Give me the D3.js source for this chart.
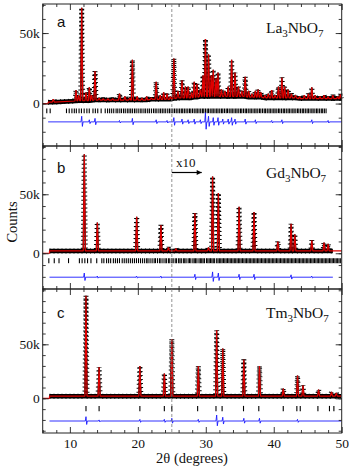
<!DOCTYPE html>
<meta charset="utf-8">
<style>
body { margin: 0; background: #fff; }
text { font-family: "Liberation Serif", "Times New Roman", serif; fill: #111; }
.frame { fill: none; stroke: #222; stroke-width: 1; }
.axis path { display: none; }
.axis line { stroke: #222; stroke-width: 0.9; }
.obs-band { fill: none; stroke: #000; stroke-width: 4.5; stroke-linejoin: round; }
.obs-core { fill: none; stroke: #000; stroke-width: 1.4; stroke-linejoin: bevel; }
.obs-cross { fill: none; stroke: #000; stroke-width: 5; stroke-dasharray: 1 3; stroke-linejoin: bevel; }
.calc { fill: none; stroke: #e00000; stroke-width: 1.2; stroke-linejoin: bevel; }
.diff { fill: none; stroke: #1a1aff; stroke-width: 0.9; stroke-linejoin: bevel; }
.refl { stroke: #000; stroke-width: 1.1; }
.vline { stroke: #777; stroke-width: 0.8; stroke-dasharray: 3 2; }
.letter { font-family: "Liberation Sans", Arial, sans-serif; font-size: 15px; }
</style>
<body>
<div id="chart"></div>
</body>
<script src="https://d3js.org/d3.v7.min.js"></script>
<script>
// x axis ticks
var xTicks = [10, 20, 30, 40, 50];
var xMinorTicks = [6, 8, 12, 14, 16, 18, 22, 24, 26, 28, 32, 34, 36, 38, 42, 44, 46, 48];
var yTickLabels = [0, 50000];

// ---- La3NbO7 : [2theta, peak counts, local background] ----
var laName = "La3NbO7";
var laRange = [6.8, 50];
var laPeaks = [
  [7.56, 3000, 1000], [10.9, 9500, 1800], [11.3, 6000, 2000], [11.74, 68000, 2000],
  [12.37, 8000, 2000], [12.86, 11500, 2000], [13.2, 6000, 2200], [13.7, 23000, 2500],
  [14.3, 4000, 2500], [14.9, 3500, 2500], [15.6, 3500, 2500], [16.3, 3500, 2500],
  [17.3, 7000, 2500], [18.1, 5000, 2500], [18.8, 4000, 2500], [19.2, 31000, 2500],
  [19.9, 5000, 2500], [20.6, 4000, 2500], [21.3, 5000, 2500], [22.0, 4000, 3000],
  [22.7, 15500, 3000], [23.3, 6000, 3000], [23.8, 8000, 3000], [24.3, 7000, 3000],
  [24.8, 5000, 3000], [25.3, 32000, 3500], [25.9, 9000, 4000], [26.5, 16500, 4000],
  [27.0, 12000, 4000], [27.4, 12000, 4000], [27.9, 8000, 4000], [28.3, 15500, 4500],
  [28.7, 14000, 4500], [29.2, 10000, 5000], [29.6, 20000, 5000], [29.95, 45700, 5000],
  [30.4, 35000, 5000], [30.8, 20000, 5000], [31.1, 24000, 5000], [31.5, 18000, 5000],
  [31.8, 22000, 5000], [32.3, 10000, 5000], [32.8, 9000, 5000], [33.3, 12000, 5000],
  [33.8, 31000, 5000], [34.3, 22000, 5000], [34.8, 12000, 5000], [35.3, 9000, 5000],
  [35.8, 19000, 5000], [36.3, 9000, 4500], [36.8, 7000, 4500], [37.3, 9000, 4500],
  [37.7, 10000, 4500], [38.1, 8000, 4500], [38.7, 6000, 4000], [39.2, 7000, 4000],
  [39.7, 9500, 4000], [40.2, 6000, 4000], [40.7, 12000, 4000], [41.2, 18500, 4000],
  [41.6, 12000, 4000], [42.1, 10000, 4000], [42.6, 7000, 4000], [43.2, 6000, 4000],
  [43.8, 5000, 3500], [44.5, 6000, 3500], [45.1, 7000, 3500], [45.6, 11500, 3500],
  [46.1, 6000, 3500], [46.8, 5000, 3500], [47.4, 6000, 3500], [48.0, 5000, 3500],
  [48.7, 6000, 3500], [49.4, 5000, 3500], [49.8, 6500, 3500]
];
var laReflections = [
  6.6, 7.1, 9.5, 9.9, 10.3, 10.65, 10.95, 11.35, 11.7, 12.1, 12.5, 12.85, 13.4, 13.75,
  14.1, 14.6, 15.2, 15.55, 15.85, 16.15, 16.45, 16.8, 17.05, 17.35, 17.6, 17.9, 18.15,
  18.45, 18.7, 18.95, 19.2, 19.5, 19.75, 20.05, 20.35, 20.6, 20.9, 21.15, 21.45, 21.7,
  22.0, 22.3, 22.55, 22.8, 23.1, 23.35, 23.6, 23.85, 24.1, 24.4, 24.65, 24.9, 25.15,
  25.4, 25.65, 25.9, 26.15, 26.4, 26.6, 26.85, 27.1, 27.35, 27.6, 27.8, 28.05, 28.3,
  28.55, 28.75, 29.0, 29.25, 29.5, 29.7, 29.95, 30.2, 30.4, 30.65, 30.9, 31.1, 31.35,
  31.6, 31.8, 32.05, 32.3, 32.5, 32.75, 33.0, 33.2, 33.45, 33.7, 33.9, 34.15, 34.4,
  34.6, 34.85, 35.1, 35.3, 35.55, 35.8, 36.0, 36.25, 36.5, 36.7, 36.95, 37.2, 37.4,
  37.65, 37.9, 38.1, 38.35, 38.6, 38.8, 39.05, 39.3, 39.5, 39.75, 40.0, 40.2, 40.45,
  40.7, 40.9, 41.15, 41.4, 41.6, 41.85, 42.1, 42.3, 42.55, 42.8, 43.0, 43.25, 43.5,
  43.7, 43.95, 44.2, 44.4, 44.65, 44.9, 45.1, 45.35, 45.6, 45.8, 46.05, 46.3, 46.5,
  46.75, 47.0, 47.2, 47.45, 47.7
];
// difference spikes [2theta, amplitude]
var laDiff = [
  [11.74, 4000], [12.86, 1500], [13.7, 2500], [17.3, 1000], [19.2, 2500], [22.7, 1500],
  [24.3, 1000], [25.3, 3000], [26.5, 2000], [27.4, 1500], [28.3, 2000], [29.2, 1500],
  [29.95, 6500], [30.4, 4000], [31.1, 3000], [31.8, 3000], [32.5, 2000], [33.3, 2000],
  [33.8, 3000], [34.3, 2000], [35.8, 2000], [37.3, 1500], [39.7, 1000], [41.2, 1500],
  [45.6, 1500], [48.0, 1000]
];

// ---- Gd3NbO7 ----
var gdName = "Gd3NbO7";
var gdRange = [7.0, 48.7];
var gdBackground = 2000;
var gdPeaks = [
  [12.12, 84000], [14.04, 26000], [19.83, 31000], [23.4, 24000], [24.5, 5000],
  [25.6, 4000], [28.4, 34000], [30.4, 5000], [31.0, 65000], [31.85, 51000],
  [34.9, 39500], [37.1, 35000], [40.6, 10000], [42.55, 25000], [43.1, 16000],
  [45.6, 11000], [47.4, 9000], [48.0, 8000]
];
var gdReflections = [
  6.9, 7.7, 8.4, 9.8, 11.4, 11.8, 12.2, 12.6, 13.1, 13.95, 14.7, 15.0, 15.4, 15.7,
  16.0, 16.4, 16.7, 17.0, 17.3, 17.7, 18.0, 18.3, 18.6, 18.9, 19.2, 19.5, 19.8, 20.1,
  20.4, 20.7, 21.0, 21.3, 21.5, 21.8, 22.1, 22.4, 22.6, 22.9, 23.2, 23.4, 23.7, 24.0,
  24.2, 24.5, 24.7, 25.0, 25.2, 25.5, 25.7, 26.0, 26.2, 26.4, 26.7, 26.9, 27.1, 27.4,
  27.6, 27.8, 28.1, 28.3, 28.5, 28.7, 29.0, 29.2, 29.4, 29.6, 29.8, 30.1, 30.3, 30.5,
  30.7, 30.9, 31.1, 31.3, 31.6, 31.8, 32.0, 32.2, 32.4, 32.6, 32.8, 33.0, 33.2, 33.4,
  33.6, 33.8, 34.0, 34.2, 34.4, 34.6, 34.8, 35.0, 35.2, 35.4, 35.6, 35.8, 36.0, 36.2,
  36.4, 36.6, 36.8, 37.0, 37.2, 37.4, 37.6, 37.8, 38.0, 38.2, 38.4, 38.6, 38.8, 39.0,
  39.2, 39.4, 39.6, 39.8, 40.0, 40.2, 40.4, 40.6, 40.8, 41.0, 41.2, 41.4, 41.6, 41.8,
  42.0, 42.2, 42.4, 42.6, 42.8, 43.0, 43.2, 43.4, 43.6, 43.8, 44.0, 44.2, 44.4, 44.6,
  44.8, 45.0, 45.2, 45.4, 45.6, 45.8, 46.0, 46.2, 46.4, 46.6, 46.8, 47.0, 47.2, 47.4,
  47.6, 47.8, 48.0, 48.2, 48.4, 48.6, 48.8, 49.0, 49.2, 49.4, 49.6, 49.8
];
var gdDiff = [
  [12.12, 3500], [14.04, 1000], [19.83, 1000], [23.4, 1000], [28.4, 2500],
  [31.0, 4500], [31.85, 3500], [34.9, 2500], [37.1, 2500], [42.55, 2000], [45.6, 1000]
];

// ---- Tm3NbO7 ----
var tmName = "Tm3NbO7";
var tmRange = [7.0, 49.9];
var tmBackground = 2000;
var tmPeaks = [
  [12.37, 95000], [14.3, 29000], [20.3, 30000], [23.9, 23000], [25.0, 55000],
  [28.9, 30000], [31.6, 63000], [32.5, 46000], [35.6, 36000], [37.9, 30000],
  [41.4, 9000], [43.5, 21000], [44.3, 12000], [46.6, 8000], [48.5, 6000], [49.2, 5000]
];
var tmReflections = [
  12.37, 14.3, 20.3, 23.9, 25.0, 28.8, 31.5, 32.4, 35.55, 37.8, 41.4, 43.4, 43.9,
  46.5, 48.2, 48.85
];
var tmDiff = [
  [12.37, 4000], [14.3, 1000], [20.3, 1500], [23.9, 1500], [25.0, 2500], [28.9, 1500],
  [31.6, 5500], [32.5, 3500], [35.6, 2500], [37.9, 2500], [43.5, 1500]
];

var width = 349, height = 469;
var left = 42.7, right = 341.7;
var hw = 0.15;   // half width of a drawn peak, degrees

var panels = [
  {letter: "a", name: laName, top: 4, bottom: 146, yDomain: [-30100, 70600],
   peaks: laPeaks, range: laRange, refl: laReflections, reflBand: [-3500, -6800],
   diff: laDiff, diffLevel: -13000, calcEnd: 50, letterY: 27, nameY: 33},
  {letter: "b", name: gdName, top: 146, bottom: 289, yDomain: [-30300, 90900],
   peaks: gdPeaks.map(function(p) { return [p[0], p[1], gdBackground]; }),
   range: gdRange, refl: gdReflections, reflBand: [-4200, -8400],
   diff: gdDiff, diffLevel: -20300, calcEnd: 50, letterY: 173, nameY: 178},
  {letter: "c", name: tmName, top: 289, bottom: 433, yDomain: [-32100, 101200],
   peaks: tmPeaks.map(function(p) { return [p[0], p[1], tmBackground]; }),
   range: tmRange, refl: tmReflections, reflBand: [-7000, -12000],
   diff: tmDiff, diffLevel: -21000, calcEnd: 49.9, letterY: 318, nameY: 318}
];

var xScale = d3.scaleLinear().domain([6, 50]).range([left, right]);

var svg = d3.select("#chart").append("svg")
    .attr("width", width)
    .attr("height", height);

function profilePoints(p) {
  var pts = [[p.range[0], p.peaks[0][2]]];
  p.peaks.forEach(function(d) {
    pts.push([d[0] - hw, d[2]], [d[0], d[1]], [d[0] + hw, d[2]]);
  });
  pts.push([p.range[1], p.peaks[p.peaks.length - 1][2]]);
  return pts;
}

function bandPoints(p) {
  var pts = [[p.range[0], p.peaks[0][2]]];
  p.peaks.forEach(function(d) { pts.push([d[0], d[2]]); });
  pts.push([p.range[1], p.peaks[p.peaks.length - 1][2]]);
  return pts;
}

function diffPoints(p) {
  var pts = [[p.range[0], 0]];
  p.diff.forEach(function(d) {
    pts.push([d[0] - 0.1, 0], [d[0], d[1]], [d[0] + 0.1, -d[1] * 0.8], [d[0] + 0.2, 0]);
  });
  pts.push([p.range[1], 0]);
  return pts;
}

panels.forEach(function(p, i) {
  var yScale = d3.scaleLinear().domain(p.yDomain).range([p.bottom, p.top]);
  var line = d3.line()
      .x(function(d) { return xScale(d[0]); })
      .y(function(d) { return yScale(d[1]); });
  var g = svg.append("g");

  // reflection markers
  g.selectAll(".refl")
      .data(p.refl)
    .enter().append("line")
      .attr("class", "refl")
      .attr("x1", function(d) { return xScale(d); })
      .attr("x2", function(d) { return xScale(d); })
      .attr("y1", yScale(p.reflBand[0]))
      .attr("y2", yScale(p.reflBand[1]));

  // difference curve
  var dline = d3.line()
      .x(function(d) { return xScale(d[0]); })
      .y(function(d) { return yScale(d[1] + p.diffLevel); });
  g.append("path").datum(diffPoints(p)).attr("class", "diff").attr("d", dline);

  // observed (crosses) and calculated
  var obs = profilePoints(p);
  g.append("path").datum(bandPoints(p)).attr("class", "obs-band").attr("d", line);
  g.append("path").datum(obs).attr("class", "obs-core").attr("d", line);
  g.append("path").datum(obs).attr("class", "obs-cross").attr("d", line);

  var calc = [[6, 0], [p.range[0], 0]].concat(obs);
  if (p.calcEnd > p.range[1]) calc.push([p.calcEnd, obs[obs.length - 1][1]]);
  g.append("path").datum(calc).attr("class", "calc").attr("d", line);

  // y axes (ticks inward)
  var tenK = d3.range(Math.ceil(p.yDomain[0] / 10000) * 10000, p.yDomain[1], 10000);
  g.append("g").attr("class", "axis")
      .attr("transform", "translate(" + left + ",0)")
      .call(d3.axisLeft(yScale).tickValues(tenK).tickSize(-3).tickFormat(""));
  g.append("g").attr("class", "axis")
      .attr("transform", "translate(" + left + ",0)")
      .call(d3.axisLeft(yScale).tickValues(yTickLabels).tickSize(-6).tickPadding(3)
        .tickFormat(function(d) { return d === 0 ? "0" : (d / 1000) + "k"; }))
      .selectAll("text")
        .style("font-family", '"Liberation Serif", serif')
        .style("font-size", "13.5px")
        .attr("fill", "#111");
  g.append("g").attr("class", "axis")
      .attr("transform", "translate(" + right + ",0)")
      .call(d3.axisRight(yScale).tickValues(tenK).tickSize(-3).tickFormat(""));
  g.append("g").attr("class", "axis")
      .attr("transform", "translate(" + right + ",0)")
      .call(d3.axisRight(yScale).tickValues(yTickLabels).tickSize(-6).tickFormat(""));

  // x ticks on top and bottom of each panel
  [p.top, p.bottom].forEach(function(yy, k) {
    var mk = k === 0 ? d3.axisTop : d3.axisBottom;
    g.append("g").attr("class", "axis")
        .attr("transform", "translate(0," + yy + ")")
        .call(mk(xScale).tickValues(xMinorTicks).tickSize(-3).tickFormat(""));
    var major = g.append("g").attr("class", "axis")
        .attr("transform", "translate(0," + yy + ")")
        .call(mk(xScale).tickValues(xTicks).tickSize(-6).tickPadding(5)
          .tickFormat(k === 1 && i === 2 ? d3.format("d") : ""));
    major.selectAll("text")
        .style("font-family", '"Liberation Serif", serif')
        .style("font-size", "13.5px")
        .attr("fill", "#111");
  });

  g.append("rect").attr("class", "frame")
      .attr("x", left).attr("y", p.top)
      .attr("width", right - left).attr("height", p.bottom - p.top);

  g.append("text").attr("class", "letter")
      .attr("x", 57).attr("y", p.letterY).text(p.letter);

  var name = g.append("text")
      .attr("x", 266).attr("y", p.nameY)
      .style("font-size", "15.5px");
  p.name.split(/(\d)/).filter(function(s) { return s.length; }).forEach(function(s) {
    var isSub = /\d/.test(s);
    name.append("tspan")
        .attr("dy", isSub ? 4 : -4)
        .style("font-size", isSub ? "11px" : "15.5px")
        .text(s);
  });
  name.select("tspan").attr("dy", 0);
});

// dashed line at 25 degrees through all panels
svg.append("line").attr("class", "vline")
    .attr("x1", xScale(25)).attr("x2", xScale(25))
    .attr("y1", 4).attr("y2", 433);

// x10 note in panel b
svg.append("text").attr("x", 176).attr("y", 167)
    .style("font-size", "13px").text("x10");
svg.append("defs").append("marker")
    .attr("id", "arrow").attr("viewBox", "0 0 10 10")
    .attr("refX", 10).attr("refY", 5)
    .attr("markerWidth", 9).attr("markerHeight", 5)
    .attr("orient", "auto").attr("markerUnits", "userSpaceOnUse")
  .append("path").attr("d", "M0,0L10,5L0,10z").attr("fill", "#000");
svg.append("line")
    .attr("x1", xScale(25)).attr("x2", xScale(29.4))
    .attr("y1", 172.5).attr("y2", 172.5)
    .attr("stroke", "#000").attr("stroke-width", 1.2)
    .attr("marker-end", "url(#arrow)");

// axis titles
svg.append("text")
    .attr("transform", "translate(17,222) rotate(-90)")
    .attr("text-anchor", "middle")
    .style("font-size", "14.5px")
    .text("Counts");
svg.append("text")
    .attr("x", 192).attr("y", 463)
    .attr("text-anchor", "middle")
    .style("font-size", "14.5px")
    .text("2θ (degrees)");
</script>
